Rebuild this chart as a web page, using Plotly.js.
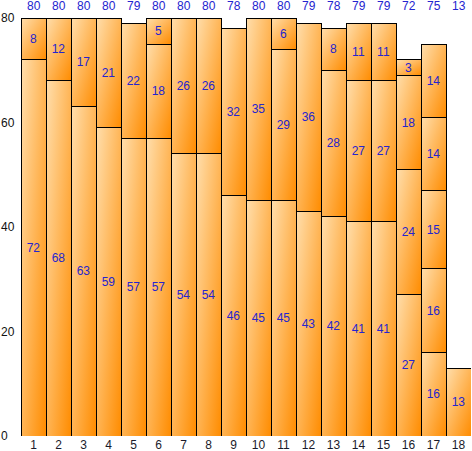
<!DOCTYPE html>
<html>
<head>
<meta charset="utf-8">
<script src="https://cdn.plot.ly/plotly-3.0.1.min.js"></script>
<style>
html,body{margin:0;padding:0;background:#fff;}
#chart{width:472px;height:451px;}
</style>
</head>
<body>
<div id="chart"></div>
<script>
var categories = [1,2,3,4,5,6,7,8,9,10,11,12,13,14,15,16,17,18];
var level1 = [72,68,63,59,57,57,54,54,46,45,45,43,42,41,41,27,16,13];
var level2 = [8,12,17,21,22,18,26,26,32,35,29,36,28,27,27,24,16,null];
var level3 = [null,null,null,null,null,5,null,null,null,null,6,null,8,11,11,18,15,null];
var level4 = [null,null,null,null,null,null,null,null,null,null,null,null,null,null,null,3,14,null];
var level5 = [null,null,null,null,null,null,null,null,null,null,null,null,null,null,null,null,14,null];
var totals = [80,80,80,80,79,80,80,80,78,80,80,79,78,79,79,72,75,13];
var yTicks = [0,20,40,60,80];

var levels = [level1, level2, level3, level4, level5];
var labelBlue = '#2424d0';
var FONT = 'Liberation Sans, Arial, sans-serif';
var labelFont = {color:labelBlue, size:12, family:FONT};

var traces = levels.map(function(vals){
  return {
    type:'bar',
    x: categories,
    y: vals,
    text: vals.map(function(v){ return v==null ? '' : String(v); }),
    textposition:'inside',
    insidetextanchor:'middle',
    textangle:0,
    constraintext:'none',
    textfont:labelFont,
    insidetextfont:labelFont,
    outsidetextfont:labelFont,
    cliponaxis:false,
    marker:{color:'#ffb04a', line:{color:'#000', width:1}},
    hoverinfo:'none',
    showlegend:false
  };
});

var plotH = 418;
var annotations = [];
categories.forEach(function(c,i){
  annotations.push({
    x:c, xref:'x', y:1 + 12.3/plotH, yref:'paper',
    text:String(totals[i]), showarrow:false,
    xanchor:'center', yanchor:'middle',
    font:{color:labelBlue, size:12, family:FONT}
  });
});
yTicks.forEach(function(t){
  annotations.push({
    x:-21/450, xref:'paper', y:t, yref:'y',
    text:String(t), showarrow:false,
    xanchor:'left', yanchor:'middle', xshift:-1,
    font:{color:'#111', size:12, family:FONT}
  });
});

var layout = {
  width:472, height:451,
  margin:{l:21, r:1, t:18, b:15, pad:0},
  barmode:'stack',
  bargap:0,
  paper_bgcolor:'#fff',
  plot_bgcolor:'#fff',
  showlegend:false,
  hovermode:false,
  xaxis:{
    range:[0.5,18.5], tickvals:categories, ticktext:categories.map(String),
    showgrid:false, zeroline:false, showline:false, ticks:'',
    automargin:false,
    tickfont:{color:'#1a1a2a', size:12, family:FONT}
  },
  yaxis:{
    range:[0,80], showgrid:false, zeroline:false, showline:false,
    showticklabels:false, ticks:'', automargin:false
  },
  annotations:annotations
};

Plotly.newPlot('chart', traces, layout, {staticPlot:true, displayModeBar:false}).then(function(gd){
  var ns = 'http://www.w3.org/2000/svg';
  var svg = gd.querySelector('.main-svg');
  var defs = svg.querySelector('defs');
  if(!defs){ defs = document.createElementNS(ns,'defs'); svg.insertBefore(defs, svg.firstChild); }
  var lg = document.createElementNS(ns,'linearGradient');
  lg.setAttribute('id','barGrad');
  lg.setAttribute('x1','0'); lg.setAttribute('y1','0');
  lg.setAttribute('x2','1'); lg.setAttribute('y2','1');
  [['0','#ffdfae'],['1','#ff8c00']].forEach(function(s){
    var st = document.createElementNS(ns,'stop');
    st.setAttribute('offset', s[0]);
    st.setAttribute('stop-color', s[1]);
    lg.appendChild(st);
  });
  defs.appendChild(lg);
  gd.querySelectorAll('.bars .point path').forEach(function(p){
    p.style.fill = 'url(#barGrad)';
  });
  gd.querySelectorAll('.bars .point text').forEach(function(t){
    t.style.fill = labelBlue;
  });
});
</script>
</body>
</html>
